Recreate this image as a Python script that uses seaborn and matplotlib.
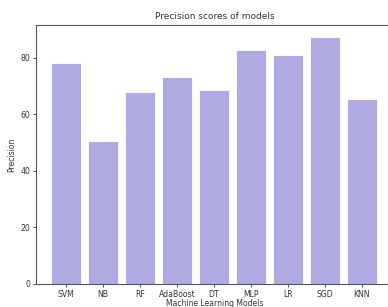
import pandas as pd
import seaborn as sns
import matplotlib.pyplot as plt

models = ["SVM", "NB", "RF", "AdaBoost", "DT", "MLP", "LR", "SGD", "KNN"]
precision = [78.2, 50.4, 68.0, 73.0, 68.7, 82.8, 81.0, 87.4, 65.5]

data = pd.DataFrame({"model": models, "precision": precision})

sns.set_theme(style="ticks")

fig = plt.figure(figsize=(3.88, 3.07), dpi=100)
ax = fig.add_axes([0.093, 0.075, 0.92, 0.844])

sns.barplot(x="model", y="precision", data=data, color="#b0aae2",
            saturation=1, width=0.8, edgecolor="white", linewidth=0.6, ax=ax)

ax.set_xlim(-0.81, len(models) - 1 + 0.84)
ax.set_ylim(0, 91.6)
ax.set_yticks([0, 20, 40, 60, 80])
ax.set_title("Precision scores of models", fontsize=6.5, color="#333333", pad=4)
ax.set_xlabel("Machine Learning Models", fontsize=5.5, color="#333333", labelpad=0)
ax.set_ylabel("Precision", fontsize=5.5, color="#333333", labelpad=3)
ax.tick_params(labelsize=5.6, colors="#333333", length=2.5, width=0.6, pad=1.5)
for s in ax.spines.values():
    s.set_color("#555555")
    s.set_linewidth(0.8)

fig.savefig("out.png", dpi=100)
